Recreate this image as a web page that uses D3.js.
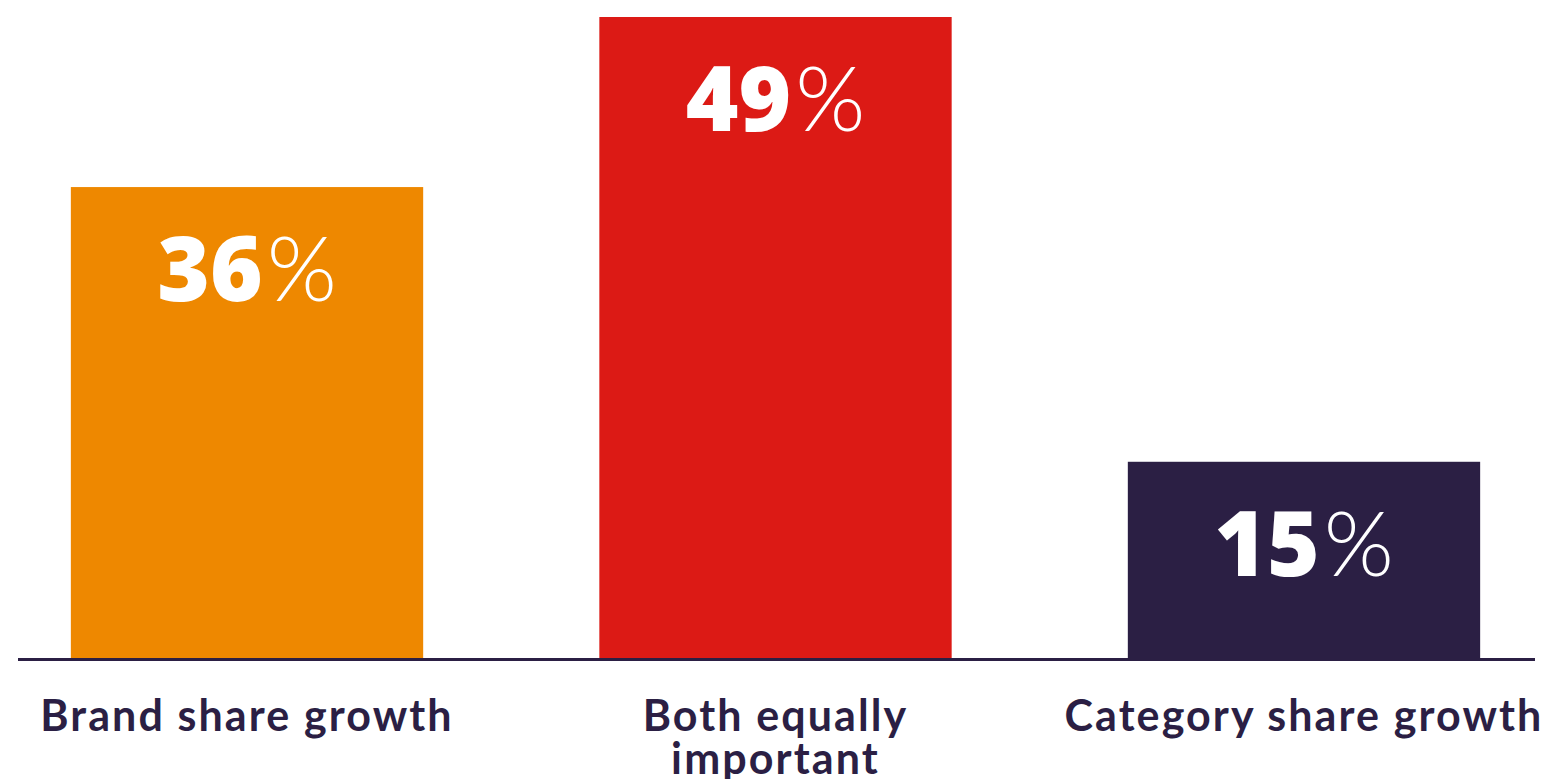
<!DOCTYPE html>
<html>
<head>
<meta charset="utf-8">
<script src="https://cdn.jsdelivr.net/npm/d3@7"></script>
<style>
  html, body { margin: 0; padding: 0; background: #ffffff; }
  svg { display: block; }
</style>
</head>
<body>
<svg id="chart" width="1546" height="779"></svg>
<script>
const categories = ["Brand share growth", "Both equally important", "Category share growth"];
const categoryLines = [["Brand share growth"], ["Both equally", "important"], ["Category share growth"]];
const values = [36, 49, 15];
const colors = ["#EE8800", "#DC1A15", "#2B1F44"];

const svg = d3.select("#chart");
const baseY = 658;

const x = d3.scaleBand()
  .domain(categories)
  .range([18, 1533])
  .paddingInner(1 / 3)
  .paddingOuter(0.1);

const y = d3.scaleLinear()
  .domain([0, 49])
  .range([baseY, 17]);

// bars
svg.append("g").selectAll("rect")
  .data(values)
  .join("rect")
  .attr("x", (d, i) => x(categories[i]))
  .attr("y", d => y(d))
  .attr("width", x.bandwidth())
  .attr("height", d => y(0) - y(d))
  .attr("fill", (d, i) => colors[i]);

// axis baseline
const axis = d3.axisBottom(x).tickSize(0).tickFormat("");
const axisG = svg.append("g")
  .attr("transform", `translate(0,${baseY + 1.5})`)
  .call(axis);
axisG.select(".domain")
  .attr("stroke", "#2B1F44")
  .attr("stroke-width", 3)
  .attr("d", "M18,0H1535");

// value labels
const lbl = svg.append("g").selectAll("text")
  .data(values)
  .join("text")
  .attr("x", (d, i) => x(categories[i]) + x.bandwidth() / 2)
  .attr("y", d => y(d) + 114)
  .attr("text-anchor", "middle")
  .attr("fill", "#ffffff")
  .style("font-size", "90px");
lbl.append("tspan")
  .style("font-family", "'Open Sans', Lato, sans-serif")
  .style("font-weight", 800)
  .text(d => d);
lbl.append("tspan")
  .style("font-family", "Lato, 'Open Sans', sans-serif")
  .style("font-weight", 300)
  .attr("dx", 4)
  .text("%");

// category labels
const cat = svg.append("g").selectAll("text")
  .data(categoryLines)
  .join("text")
  .attr("x", (d, i) => x(categories[i]) + x.bandwidth() / 2)
  .attr("y", 731)
  .attr("text-anchor", "middle")
  .attr("fill", "#2B1F44")
  .style("font-family", "Lato, 'Open Sans', sans-serif")
  .style("font-weight", 700)
  .style("font-size", "43px")
  .style("letter-spacing", "2.1px");
cat.selectAll("tspan")
  .data(d => d)
  .join("tspan")
  .attr("x", function () { return d3.select(this.parentNode).attr("x"); })
  .attr("dy", (d, j) => j === 0 ? 0 : 43)
  .text(d => d);
</script>
</body>
</html>
